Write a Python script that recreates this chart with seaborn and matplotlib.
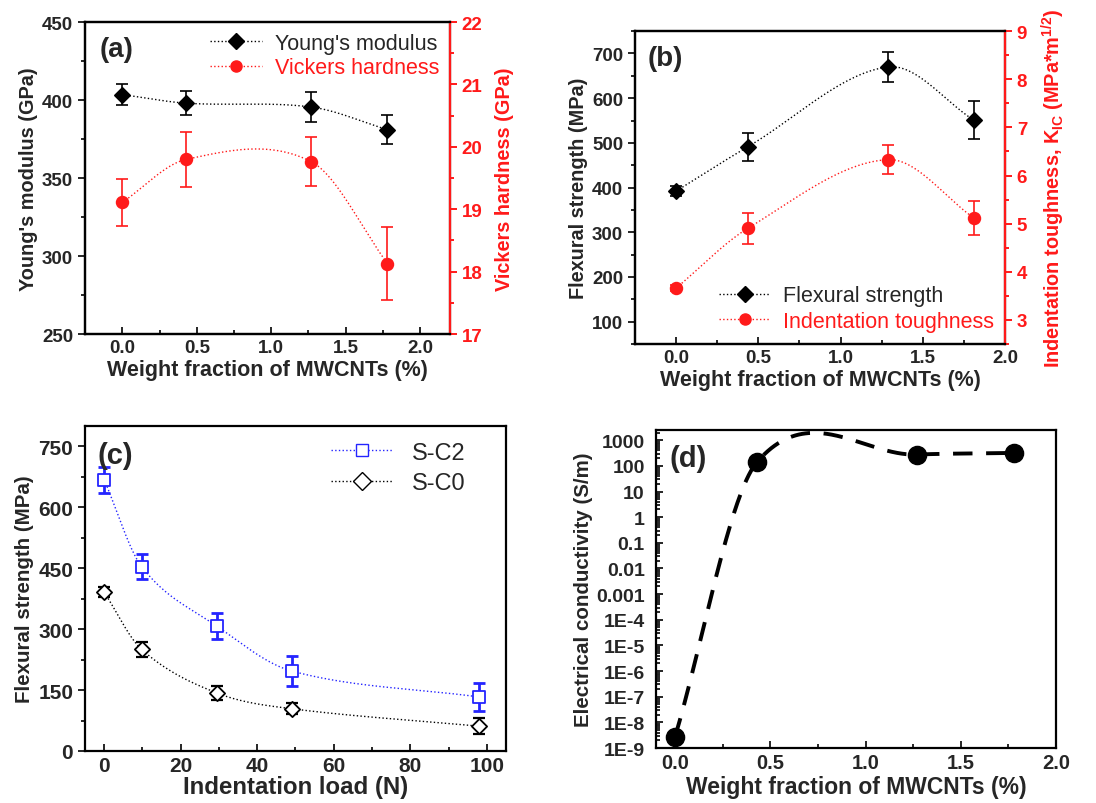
import numpy as np
import seaborn as sns
import matplotlib
matplotlib.use("Agg")
import matplotlib.pyplot as plt
from matplotlib.lines import Line2D
from matplotlib.ticker import MultipleLocator, FixedLocator, LogLocator, NullFormatter

# ---- data ----
wf_a = [0.0, 0.43, 1.27, 1.78]
young = [403.5, 398.0, 395.5, 381.0]
young_err = [6.5, 7.5, 9.7, 9.3]
hard = [19.11, 19.8, 19.76, 18.13]
hard_err = [0.38, 0.44, 0.39, 0.58]

wf_b = [0.0, 0.435, 1.29, 1.81]
flex = [392, 491, 670, 551]
flex_err = [12, 31, 34, 42]
tough = [3.66, 4.9, 6.33, 5.12]
tough_err = [0.07, 0.32, 0.3, 0.36]

load = [0, 9.8, 29.4, 49, 98]
sc2 = [668, 454, 308, 197, 133]
sc2_err = [32, 31, 33, 36, 35]
sc0 = [391, 250, 143, 104, 61]
sc0_err = [12, 19, 17, 13, 19]

wf_d = [0.0, 0.43, 1.27, 1.78]
cond = [2.7e-9, 139, 277, 320]
cond_labels = ["1000", "100", "10", "1", "0.1", "0.01", "0.001",
               "1E-4", "1E-5", "1E-6", "1E-7", "1E-8", "1E-9"]

RED = "#ff1a1a"
BLUE = "#2424ff"


def spline(x, y, n=300):
    # cubic Hermite curve through the points (Catmull-Rom style tangents)
    x = np.asarray(x, float)
    y = np.asarray(y, float)
    m = np.empty_like(y)
    m[1:-1] = (y[2:] - y[:-2]) / (x[2:] - x[:-2])
    m[0] = (y[1] - y[0]) / (x[1] - x[0])
    m[-1] = (y[-1] - y[-2]) / (x[-1] - x[-2])
    xs = np.linspace(x[0], x[-1], n)
    idx = np.clip(np.searchsorted(x, xs) - 1, 0, len(x) - 2)
    h = x[idx + 1] - x[idx]
    t = (xs - x[idx]) / h
    h00 = 2 * t ** 3 - 3 * t ** 2 + 1
    h10 = t ** 3 - 2 * t ** 2 + t
    h01 = -2 * t ** 3 + 3 * t ** 2
    h11 = t ** 3 - t ** 2
    ys = h00 * y[idx] + h10 * h * m[idx] + h01 * y[idx + 1] + h11 * h * m[idx + 1]
    return xs, ys


sns.set_style("ticks")
plt.rcParams["font.family"] = ["Liberation Sans", "DejaVu Sans"]
plt.rcParams["font.weight"] = "bold"
plt.rcParams["axes.labelweight"] = "bold"
plt.rcParams["mathtext.default"] = "regular"
plt.rcParams["axes.linewidth"] = 1.6

fig = plt.figure(figsize=(10.96, 8.04), dpi=100)
ax_a = fig.add_axes([0.0776, 0.5833, 0.333, 0.388])
ax_b = fig.add_axes([0.5794, 0.571, 0.3376, 0.389])
ax_c = fig.add_axes([0.0776, 0.0647, 0.384, 0.404])
ax_d = fig.add_axes([0.5985, 0.0684, 0.365, 0.3955])


def style_axis(ax, labelsize=13.5):
    ax.tick_params(axis="y", which="both", direction="out", width=1.4)
    ax.tick_params(axis="x", which="both", direction="in", width=1.4)
    ax.tick_params(which="major", length=5, labelsize=labelsize)
    ax.tick_params(which="minor", length=3)
    for s in ax.spines.values():
        s.set_linewidth(1.6)
        s.set_color("black")
    for lab in ax.get_xticklabels() + ax.get_yticklabels():
        lab.set_fontweight("bold")


def curve(ax, x, y, color, marker, mfc, ms, err, elw=1.2, ls=":", lw=1.0):
    xs, ys = spline(x, y)
    sns.lineplot(x=xs, y=ys, ax=ax, color=color, linestyle=ls, linewidth=lw, sort=False)
    ax.errorbar(x, y, yerr=err, fmt="none", ecolor=color, elinewidth=elw, capsize=4, capthick=elw)
    sns.scatterplot(x=x, y=y, ax=ax, marker=marker, s=ms, color=mfc, edgecolor=color,
                    linewidth=1.3, zorder=5)


def handle(color, marker, mfc, ms=8):
    return Line2D([], [], color=color, linestyle=":", linewidth=1.0, marker=marker,
                  markersize=ms, markerfacecolor=mfc, markeredgecolor=color)


# ---- (a) ----
ax_a2 = ax_a.twinx()
curve(ax_a, wf_a, young, "black", "D", "black", 60, young_err)
curve(ax_a2, wf_a, hard, RED, "o", RED, 70, hard_err)
ax_a.set_xlim(-0.25, 2.2)
ax_a.set_ylim(250, 450)
ax_a2.set_ylim(17, 22)
ax_a.xaxis.set_major_locator(MultipleLocator(0.5))
ax_a.xaxis.set_minor_locator(MultipleLocator(0.25))
ax_a.yaxis.set_major_locator(MultipleLocator(50))
ax_a.yaxis.set_minor_locator(MultipleLocator(25))
ax_a2.yaxis.set_major_locator(MultipleLocator(1))
ax_a2.yaxis.set_minor_locator(MultipleLocator(0.5))
ax_a.set_xlabel("Weight fraction of MWCNTs (%)", fontsize=15.5, labelpad=2)
ax_a.set_ylabel("Young's modulus (GPa)", fontsize=14.3, labelpad=3)
ax_a2.set_ylabel("Vickers hardness (GPa)", fontsize=14.3, color=RED, labelpad=9)
style_axis(ax_a)
style_axis(ax_a2)
ax_a2.spines["right"].set_color(RED)
ax_a2.tick_params(axis="y", which="both", colors=RED, labelcolor=RED)
ax_a.text(0.04, 0.955, "(a)", transform=ax_a.transAxes, fontsize=20, fontweight="bold", va="top")
leg = ax_a.legend([handle("black", "D", "black"), handle(RED, "o", RED)],
                  ["Young's modulus", "Vickers hardness"], loc="upper right",
                  frameon=False, handlelength=2.4, borderaxespad=0.1, handletextpad=0.6,
                  labelspacing=0.15, prop={"size": 15.5, "weight": "normal"})
leg.get_texts()[1].set_color(RED)

# ---- (b) ----
ax_b2 = ax_b.twinx()
curve(ax_b, wf_b, flex, "black", "D", "black", 60, flex_err)
curve(ax_b2, wf_b, tough, RED, "o", RED, 70, tough_err)
ax_b.set_xlim(-0.25, 2.0)
ax_b.set_ylim(50, 750)
ax_b2.set_ylim(2.5, 9)
ax_b.xaxis.set_major_locator(MultipleLocator(0.5))
ax_b.xaxis.set_minor_locator(MultipleLocator(0.25))
ax_b.yaxis.set_major_locator(FixedLocator([100, 200, 300, 400, 500, 600, 700]))
ax_b.yaxis.set_minor_locator(MultipleLocator(50))
ax_b2.yaxis.set_major_locator(FixedLocator([3, 4, 5, 6, 7, 8, 9]))
ax_b2.yaxis.set_minor_locator(MultipleLocator(0.5))
ax_b.set_xlabel("Weight fraction of MWCNTs (%)", fontsize=15.5, labelpad=2)
ax_b.set_ylabel("Flexural strength (MPa)", fontsize=14.3, labelpad=3)
ax_b2.set_ylabel("Indentation toughness, K$_{IC}$ (MPa*m$^{1/2}$)", fontsize=14.3,
                 color=RED, labelpad=9)
style_axis(ax_b)
style_axis(ax_b2)
ax_b2.spines["right"].set_color(RED)
ax_b2.tick_params(axis="y", which="both", colors=RED, labelcolor=RED)
ax_b.text(0.035, 0.955, "(b)", transform=ax_b.transAxes, fontsize=20, fontweight="bold", va="top")
leg = ax_b.legend([handle("black", "D", "black"), handle(RED, "o", RED)],
                  ["Flexural strength", "Indentation toughness"], loc="lower right",
                  frameon=False, handlelength=2.4, borderaxespad=0.1, handletextpad=0.6,
                  labelspacing=0.2, prop={"size": 15.5, "weight": "normal"},
                  bbox_to_anchor=(1.0, 0.005))
leg.get_texts()[1].set_color(RED)

# ---- (c) ----
curve(ax_c, load, sc2, BLUE, "s", "white", 70, sc2_err, elw=2.0)
curve(ax_c, load, sc0, "black", "D", "white", 60, sc0_err, elw=1.6)
ax_c.set_xlim(-5, 105)
ax_c.set_ylim(0, 800)
ax_c.xaxis.set_major_locator(MultipleLocator(20))
ax_c.xaxis.set_minor_locator(MultipleLocator(10))
ax_c.yaxis.set_major_locator(MultipleLocator(150))
ax_c.yaxis.set_minor_locator(MultipleLocator(75))
ax_c.set_xlabel("Indentation load (N)", fontsize=17.3, labelpad=0)
ax_c.set_ylabel("Flexural strength (MPa)", fontsize=14.8, labelpad=3)
style_axis(ax_c, labelsize=15)
ax_c.text(0.03, 0.955, "(c)", transform=ax_c.transAxes, fontsize=21, fontweight="bold", va="top")
ax_c.legend([handle(BLUE, "s", "white", 9), handle("black", "D", "white", 9)],
            ["S-C2", "S-C0"], loc="upper right", bbox_to_anchor=(0.94, 1.0),
            frameon=False, handlelength=2.6, borderaxespad=0.25, labelspacing=0.35,
            handletextpad=0.8, prop={"size": 17, "weight": "normal"})

# ---- (d) ----
xs, ys = spline(wf_d, np.log10(cond))
sns.lineplot(x=xs, y=10 ** ys, ax=ax_d, color="black", linewidth=2.8, sort=False)
ax_d.lines[-1].set_dashes([5, 3.5])
sns.scatterplot(x=wf_d, y=cond, ax=ax_d, color="black", s=170, edgecolor="black", zorder=5)
ax_d.set_yscale("log")
ax_d.set_xlim(-0.1, 2.0)
ax_d.set_ylim(1e-9, 2.5e3)
ax_d.xaxis.set_major_locator(MultipleLocator(0.5))
ax_d.xaxis.set_minor_locator(MultipleLocator(0.25))
ax_d.yaxis.set_major_locator(FixedLocator([10.0 ** k for k in range(3, -10, -1)]))
ax_d.set_yticklabels(cond_labels)
ax_d.yaxis.set_minor_locator(LogLocator(base=10, subs=np.arange(2, 10), numticks=30))
ax_d.yaxis.set_minor_formatter(NullFormatter())
ax_d.set_xlabel("Weight fraction of MWCNTs (%)", fontsize=16.5, labelpad=2)
ax_d.set_ylabel("Electrical conductivity (S/m)", fontsize=14.8, labelpad=2)
style_axis(ax_d, labelsize=14)
ax_d.tick_params(axis="y", which="both", direction="in", pad=8)
ax_d.tick_params(axis="x", labelsize=14.5)
ax_d.text(0.035, 0.955, "(d)", transform=ax_d.transAxes, fontsize=21, fontweight="bold", va="top")

fig.savefig("out.png", dpi=100)
